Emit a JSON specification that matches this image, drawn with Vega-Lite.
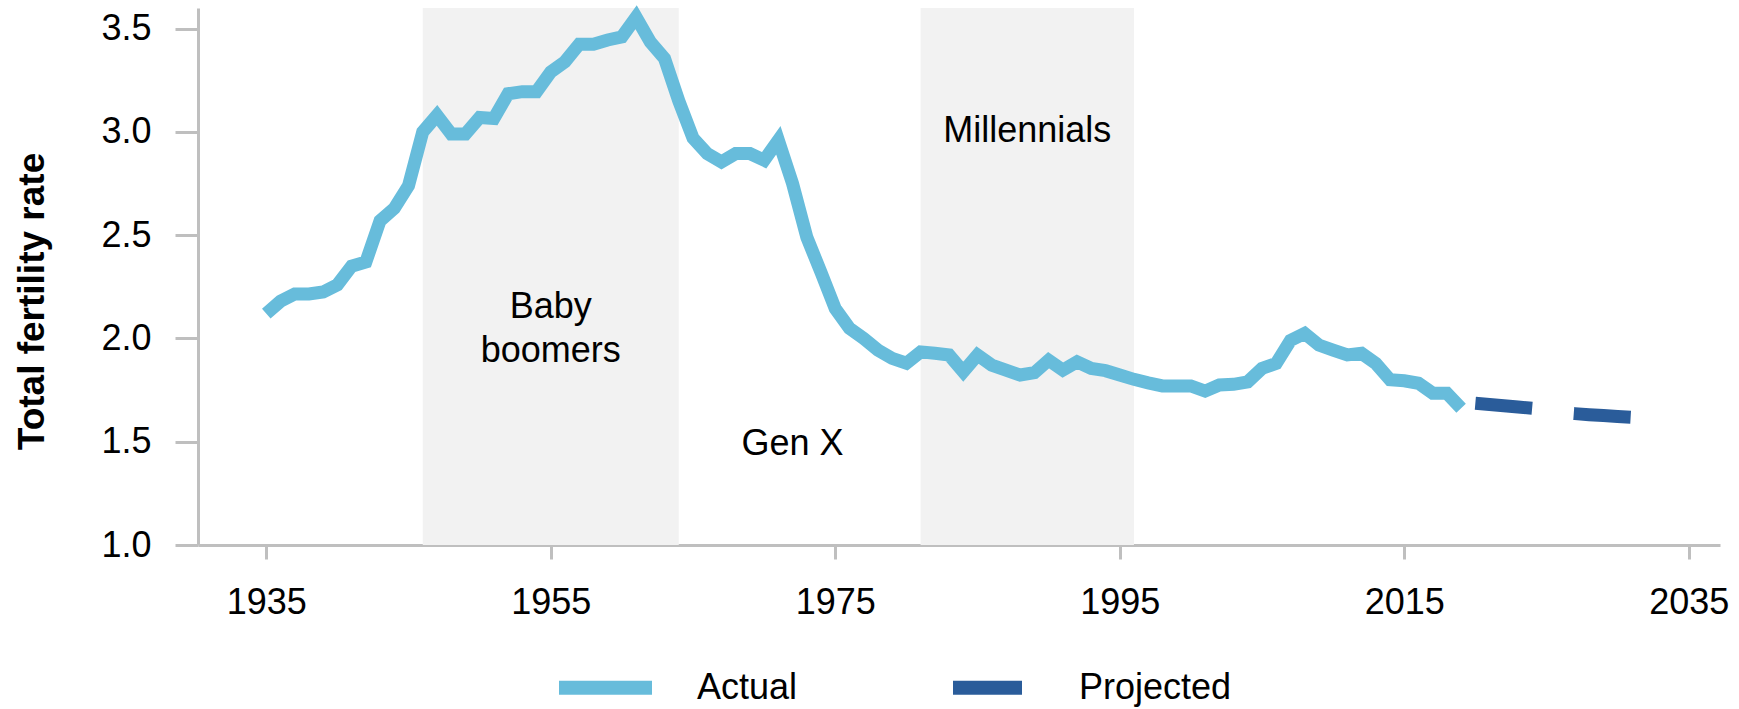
{
  "$schema": "https://vega.github.io/schema/vega-lite/v6.json",
  "width": 1522,
  "height": 537,
  "autosize": {"type": "none"},
  "padding": {"left": 198, "top": 8, "right": 19, "bottom": 164},
  "background": "white",
  "config": {
    "view": {"stroke": null},
    "font": "Liberation Sans",
    "axis": {
      "grid": false,
      "domainColor": "#BFBFBF",
      "domainWidth": 3,
      "tickColor": "#BFBFBF",
      "tickWidth": 3,
      "labelFont": "Liberation Sans",
      "labelFontSize": 36,
      "labelColor": "#000000",
      "titleColor": "#000000",
      "titleFont": "Liberation Sans"
    },
    "legend": {
      "labelFont": "Liberation Sans",
      "labelFontSize": 36,
      "labelColor": "#000000"
    }
  },
  "datasets": {
    "bands": [
      {"year": 1946, "end": 1964, "name": "Baby boomers"},
      {"year": 1981, "end": 1996, "name": "Millennials"}
    ],
    "labels": [
      {"year": 1955, "rate": 2.099, "label": "Baby"},
      {"year": 1955, "rate": 1.8875, "label": "boomers"},
      {"year": 1972, "rate": 1.436, "label": "Gen X"},
      {"year": 1988.5, "rate": 2.953, "label": "Millennials"}
    ],
    "fertility": [
      {"year": 1935, "rate": 2.12, "series": "Actual"},
      {"year": 1936, "rate": 2.18, "series": "Actual"},
      {"year": 1937, "rate": 2.215, "series": "Actual"},
      {"year": 1938, "rate": 2.215, "series": "Actual"},
      {"year": 1939, "rate": 2.225, "series": "Actual"},
      {"year": 1940, "rate": 2.26, "series": "Actual"},
      {"year": 1941, "rate": 2.35, "series": "Actual"},
      {"year": 1942, "rate": 2.37, "series": "Actual"},
      {"year": 1943, "rate": 2.57, "series": "Actual"},
      {"year": 1944, "rate": 2.63, "series": "Actual"},
      {"year": 1945, "rate": 2.74, "series": "Actual"},
      {"year": 1946, "rate": 3.0, "series": "Actual"},
      {"year": 1947, "rate": 3.08, "series": "Actual"},
      {"year": 1948, "rate": 2.99, "series": "Actual"},
      {"year": 1949, "rate": 2.99, "series": "Actual"},
      {"year": 1950, "rate": 3.07, "series": "Actual"},
      {"year": 1951, "rate": 3.065, "series": "Actual"},
      {"year": 1952, "rate": 3.185, "series": "Actual"},
      {"year": 1953, "rate": 3.195, "series": "Actual"},
      {"year": 1954, "rate": 3.195, "series": "Actual"},
      {"year": 1955, "rate": 3.29, "series": "Actual"},
      {"year": 1956, "rate": 3.34, "series": "Actual"},
      {"year": 1957, "rate": 3.425, "series": "Actual"},
      {"year": 1958, "rate": 3.425, "series": "Actual"},
      {"year": 1959, "rate": 3.445, "series": "Actual"},
      {"year": 1960, "rate": 3.46, "series": "Actual"},
      {"year": 1961, "rate": 3.555, "series": "Actual"},
      {"year": 1962, "rate": 3.435, "series": "Actual"},
      {"year": 1963, "rate": 3.355, "series": "Actual"},
      {"year": 1964, "rate": 3.15, "series": "Actual"},
      {"year": 1965, "rate": 2.97, "series": "Actual"},
      {"year": 1966, "rate": 2.895, "series": "Actual"},
      {"year": 1967, "rate": 2.855, "series": "Actual"},
      {"year": 1968, "rate": 2.895, "series": "Actual"},
      {"year": 1969, "rate": 2.895, "series": "Actual"},
      {"year": 1970, "rate": 2.863, "series": "Actual"},
      {"year": 1971, "rate": 2.96, "series": "Actual"},
      {"year": 1972, "rate": 2.75, "series": "Actual"},
      {"year": 1973, "rate": 2.49, "series": "Actual"},
      {"year": 1974, "rate": 2.32, "series": "Actual"},
      {"year": 1975, "rate": 2.145, "series": "Actual"},
      {"year": 1976, "rate": 2.049, "series": "Actual"},
      {"year": 1977, "rate": 2.0, "series": "Actual"},
      {"year": 1978, "rate": 1.944, "series": "Actual"},
      {"year": 1979, "rate": 1.904, "series": "Actual"},
      {"year": 1980, "rate": 1.88, "series": "Actual"},
      {"year": 1981, "rate": 1.935, "series": "Actual"},
      {"year": 1982, "rate": 1.928, "series": "Actual"},
      {"year": 1983, "rate": 1.92, "series": "Actual"},
      {"year": 1984, "rate": 1.839, "series": "Actual"},
      {"year": 1985, "rate": 1.92, "series": "Actual"},
      {"year": 1986, "rate": 1.871, "series": "Actual"},
      {"year": 1987, "rate": 1.847, "series": "Actual"},
      {"year": 1988, "rate": 1.823, "series": "Actual"},
      {"year": 1989, "rate": 1.834, "series": "Actual"},
      {"year": 1990, "rate": 1.895, "series": "Actual"},
      {"year": 1991, "rate": 1.847, "series": "Actual"},
      {"year": 1992, "rate": 1.887, "series": "Actual"},
      {"year": 1993, "rate": 1.855, "series": "Actual"},
      {"year": 1994, "rate": 1.844, "series": "Actual"},
      {"year": 1995, "rate": 1.823, "series": "Actual"},
      {"year": 1996, "rate": 1.802, "series": "Actual"},
      {"year": 1997, "rate": 1.785, "series": "Actual"},
      {"year": 1998, "rate": 1.77, "series": "Actual"},
      {"year": 1999, "rate": 1.77, "series": "Actual"},
      {"year": 2000, "rate": 1.77, "series": "Actual"},
      {"year": 2001, "rate": 1.745, "series": "Actual"},
      {"year": 2002, "rate": 1.775, "series": "Actual"},
      {"year": 2003, "rate": 1.778, "series": "Actual"},
      {"year": 2004, "rate": 1.79, "series": "Actual"},
      {"year": 2005, "rate": 1.855, "series": "Actual"},
      {"year": 2006, "rate": 1.879, "series": "Actual"},
      {"year": 2007, "rate": 1.99, "series": "Actual"},
      {"year": 2008, "rate": 2.024, "series": "Actual"},
      {"year": 2009, "rate": 1.968, "series": "Actual"},
      {"year": 2010, "rate": 1.944, "series": "Actual"},
      {"year": 2011, "rate": 1.92, "series": "Actual"},
      {"year": 2012, "rate": 1.928, "series": "Actual"},
      {"year": 2013, "rate": 1.879, "series": "Actual"},
      {"year": 2014, "rate": 1.8, "series": "Actual"},
      {"year": 2015, "rate": 1.795, "series": "Actual"},
      {"year": 2016, "rate": 1.783, "series": "Actual"},
      {"year": 2017, "rate": 1.735, "series": "Actual"},
      {"year": 2018, "rate": 1.735, "series": "Actual"},
      {"year": 2019, "rate": 1.662, "series": "Actual"},
      {"year": 2020, "rate": 1.686, "series": "Projected"},
      {"year": 2021, "rate": 1.68, "series": "Projected"},
      {"year": 2022, "rate": 1.674, "series": "Projected"},
      {"year": 2023, "rate": 1.668, "series": "Projected"},
      {"year": 2024, "rate": 1.662, "series": "Projected"},
      {"year": 2025, "rate": 1.651, "series": "Projected"},
      {"year": 2026, "rate": 1.641, "series": "Projected"},
      {"year": 2027, "rate": 1.636, "series": "Projected"},
      {"year": 2028, "rate": 1.631, "series": "Projected"},
      {"year": 2029, "rate": 1.627, "series": "Projected"},
      {"year": 2030, "rate": 1.622, "series": "Projected"},
      {"year": 2031, "rate": 1.618, "series": "Projected"}
    ]
  },
  "layer": [
    {
      "data": {"name": "bands"},
      "mark": {"type": "rect", "color": "#F2F2F2"},
      "encoding": {
        "x": {"field": "year", "type": "quantitative", "title": null,
              "scale": {"domain": [1930.2, 2037.2], "nice": false, "zero": false}},
        "x2": {"field": "end"}
      }
    },
    {
      "data": {"name": "labels"},
      "mark": {"type": "text", "align": "center", "baseline": "alphabetic", "fontSize": 36, "font": "Liberation Sans", "color": "#000000"},
      "encoding": {
        "x": {"field": "year", "type": "quantitative", "title": null},
        "y": {"field": "rate", "type": "quantitative", "title": "Total fertility rate"},
        "text": {"field": "label"}
      }
    },
    {
      "data": {"name": "fertility"},
      "transform": [{"filter": "datum.series === 'Actual'"}],
      "mark": {"type": "line", "strokeWidth": 13, "strokeJoin": "miter"},
      "encoding": {
        "x": {"field": "year", "type": "quantitative", "title": null,
              "scale": {"domain": [1930.2, 2037.2], "nice": false, "zero": false},
              "axis": {"values": [1935, 1955, 1975, 1995, 2015, 2035], "format": "d", "title": null, "tickSize": 14, "labelPadding": 26}},
        "y": {"field": "rate", "type": "quantitative",
              "scale": {"domain": [1, 3.6], "nice": false, "zero": false},
              "axis": {"values": [1, 1.5, 2, 2.5, 3, 3.5], "format": ".1f", "title": "Total fertility rate",
                       "titleFontSize": 37, "titleFontWeight": "bold", "titleAngle": -90,
                       "titleX": -155, "titleY": 293, "titleBaseline": "alphabetic", "titleAlign": "center",
                       "tickSize": 23, "labelPadding": 24}},
        "color": {"field": "series", "type": "nominal",
                  "scale": {"domain": ["Actual", "Projected"], "range": ["#67BCDB", "#2A5C9A"]},
                  "legend": {"orient": "none", "legendX": 354, "legendY": 626, "direction": "horizontal", "title": null,
                             "symbolType": "stroke", "symbolSize": 8649, "symbolStrokeWidth": 14,
                             "labelOffset": 38, "columnPadding": 127, "padding": 0,
                             "encode": {"symbols": {"update": {"size": {"signal": "datum.value === 'Projected' ? 4761 : 8649"}}}}}}
      }
    },
    {
      "data": {"name": "fertility"},
      "transform": [{"filter": "datum.series === 'Projected'"}],
      "mark": {"type": "line", "strokeWidth": 13, "strokeDash": [57, 42]},
      "encoding": {
        "x": {"field": "year", "type": "quantitative", "title": null},
        "y": {"field": "rate", "type": "quantitative", "title": "Total fertility rate"},
        "color": {"field": "series", "type": "nominal"}
      }
    }
  ]
}
